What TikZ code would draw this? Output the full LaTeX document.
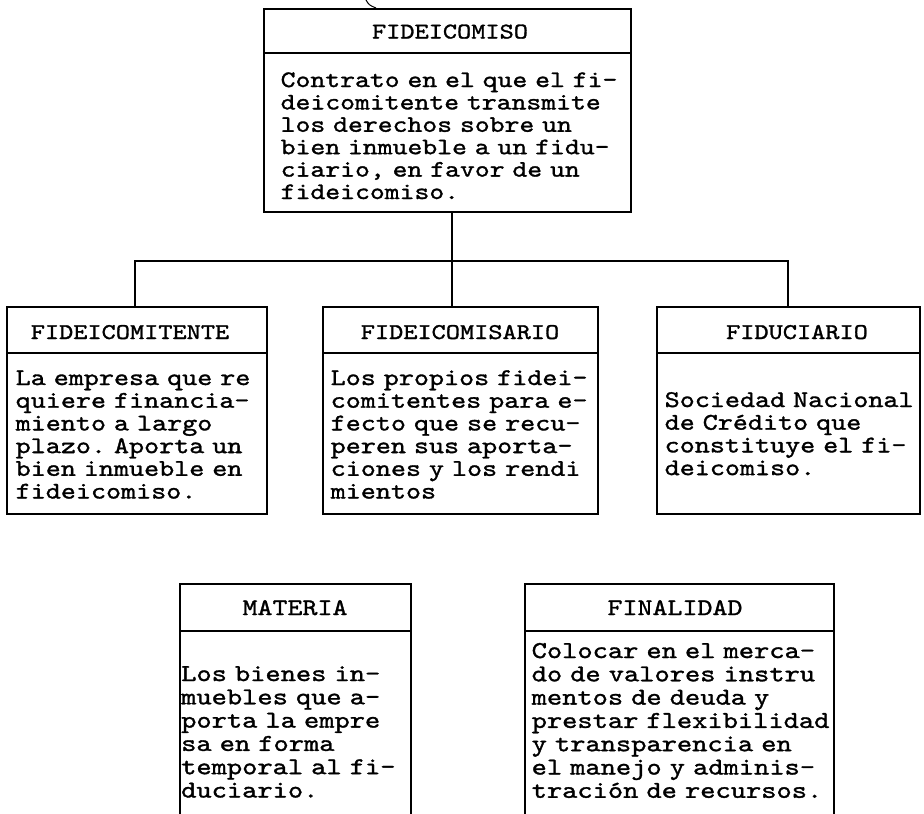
\documentclass[tikz,border=0pt]{standalone}
\usepackage{fontspec}
% typewriter face, widened and darkened a little
\newfontfamily\tw{lmmono10-regular.otf}[FakeStretch=1.2,FakeBold=1.3]
% select the face at a size and make every space exactly one character cell wide
\newcommand\twsize[2]{\tw\fontsize{#1}{#2}\selectfont\frenchspacing
  \fontdimen2\font=\fontcharwd\font`\M\relax
  \fontdimen3\font=0pt\fontdimen4\font=0pt\fontdimen7\font=0pt\relax}
\tikzset{
  frame/.style={draw, line width=1.7pt, inner sep=0pt, outer sep=0pt, anchor=north west},
  wire/.style={line width=1.7pt},
  hdrtxt/.style={inner sep=0pt, anchor=base, font=\twsize{22.5}{22.7}},
  bodytxt/.style={inner sep=0pt, anchor=base west, text width=420pt, align=left,
    font=\twsize{23.9}{22.7}},
  toptxt/.style={bodytxt, font=\twsize{23.6}{22.4}},
  lowhdr/.style={hdrtxt, font=\twsize{23.8}{23.3}},
  lowtxt/.style={bodytxt, font=\twsize{24.2}{23.3}},
}
\begin{document}
\begin{tikzpicture}[x=1pt,y=-1pt]
\useasboundingbox (0,0) rectangle (924,814);
\fill[white] (0,0) rectangle (924,814);
\clip (0,0) rectangle (924,814);

% ---------- top box ----------
\node[frame, minimum width=367pt, minimum height=44pt]  (topH) at (264,9) {};
\node[frame, minimum width=367pt, minimum height=159pt] (topB) at (264,53) {};
\node[hdrtxt] (topHt) at (450,38.5) {FIDEICOMISO};
\node[toptxt] (topBt) at (280.5,87) {Contrato en el que el fi-\\deicomitente transmite\\los derechos sobre un\\bien inmueble a un fidu-\\ciario, en favor de un\\fideicomiso.};

% ---------- middle row ----------
\node[frame, minimum width=260pt, minimum height=46pt]  (m1H) at (7,307) {};
\node[frame, minimum width=260pt, minimum height=161pt] (m1B) at (7,353) {};
\node[hdrtxt] (m1Ht) at (130,339) {FIDEICOMITENTE};
\node[bodytxt] (m1Bt) at (15.5,385) {La empresa que re\\quiere financia-\\miento a largo\\plazo. Aporta un\\bien inmueble en\\fideicomiso.};

\node[frame, minimum width=275pt, minimum height=46pt]  (m2H) at (323,307) {};
\node[frame, minimum width=275pt, minimum height=161pt] (m2B) at (323,353) {};
\node[hdrtxt] (m2Ht) at (460,339) {FIDEICOMISARIO};
\node[bodytxt] (m2Bt) at (330.5,385) {Los propios fidei-\\comitentes para e-\\fecto que se recu-\\peren sus aporta-\\ciones y los rendi\\mientos};

\node[frame, minimum width=263pt, minimum height=46pt]  (m3H) at (657,307) {};
\node[frame, minimum width=263pt, minimum height=161pt] (m3B) at (657,353) {};
\node[hdrtxt] (m3Ht) at (797,339) {FIDUCIARIO};
\node[bodytxt] (m3Bt) at (664.5,407) {Sociedad Nacional\\de Crédito que\\constituye el fi-\\deicomiso.};

% ---------- connectors ----------
\coordinate (d1) at (135,261);
\coordinate (d2) at (452,261);
\coordinate (d3) at (788,261);
\draw[wire] (d2 |- topB.south) -- (d2 |- m2H.north);
\draw[wire] (d1 |- m1H.north) -- (d1) -- (d3) -- (d3 |- m3H.north);

% ---------- bottom row (runs off the lower edge) ----------
\node[frame, minimum width=231pt, minimum height=47pt]  (b1H) at (180,584) {};
\node[frame, minimum width=231pt, minimum height=220pt] (b1B) at (180,631) {};
\node[lowhdr] (b1Ht) at (295,615) {MATERIA};
\node[lowtxt] (b1Bt) at (181,681) {Los bienes in-\\muebles que a-\\porta la empre\\sa en forma\\temporal al fi-\\duciario.};

\node[frame, minimum width=309pt, minimum height=47pt]  (b2H) at (525,584) {};
\node[frame, minimum width=309pt, minimum height=220pt] (b2B) at (525,631) {};
\node[lowhdr] (b2Ht) at (675,615) {FINALIDAD};
\node[lowtxt] (b2Bt) at (531.5,658) {Colocar en el merca-\\do de valores instru\\mentos de deuda y\\prestar flexibilidad\\y transparencia en\\el manejo y adminis-\\tración de recursos.};

% small pen stroke above the top box
\draw[line width=1pt] (366,0) .. controls (369,5) .. (376,8);
\end{tikzpicture}
\end{document}
